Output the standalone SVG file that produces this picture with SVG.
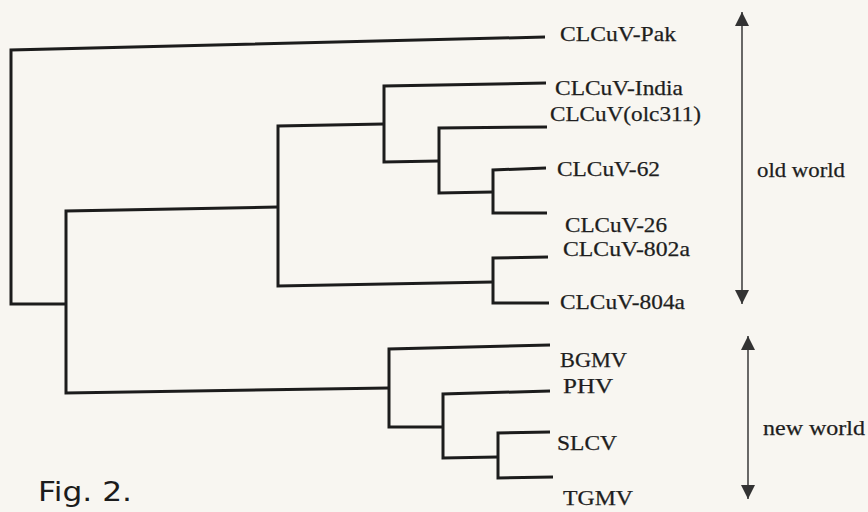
<svg xmlns="http://www.w3.org/2000/svg" width="868" height="512" viewBox="0 0 868 512">
<defs>
<marker id="ah" viewBox="0 0 14 14" refX="14" refY="7" markerWidth="14" markerHeight="14" markerUnits="userSpaceOnUse" orient="auto-start-reverse">
<path d="M0,0 L14,7 L0,14 z" fill="#333"/>
</marker>
<style>
.br{fill:none;stroke:#1c1c1c;stroke-width:3;stroke-linejoin:miter;stroke-linecap:butt}
.ar{stroke:#444;stroke-width:1.6;fill:none}
.lb{font-family:"Liberation Serif","Times New Roman",serif;font-size:21px;fill:#1e1e1e;stroke:#1e1e1e;stroke-width:0.25}
.fig{font-family:"DejaVu Sans","Liberation Sans",sans-serif;font-size:27px;fill:#1c1c1c}
</style>
</defs>
<rect width="868" height="512" fill="#f8f6f1"/>
<g id="connectors">
<path class="br" d="M545,37 L11,50 V304 H66"/>
<path class="br" d="M278,207 L66,211 V393 L389,388"/>
<path class="br" d="M384,124 L278,126 V286 L493,282"/>
<path class="br" d="M546,83 L384,86 V162 L439,161"/>
<path class="br" d="M547,127 L439,128 V193 L493,192"/>
<path class="br" d="M546,168 L493,170 V213 L547,213"/>
<path class="br" d="M548,257 L493,258 V303 L549,303"/>
<path class="br" d="M550,345 L389,349 V427 L443,427"/>
<path class="br" d="M550,391 L443,394 V458 L498,457"/>
<path class="br" d="M550,432 L498,433 V478 L553,477"/>
<line class="ar" x1="742" y1="12" x2="742" y2="304" marker-start="url(#ah)" marker-end="url(#ah)"/>
<line class="ar" x1="748" y1="336" x2="748" y2="499" marker-start="url(#ah)" marker-end="url(#ah)"/>
</g>
<g id="leaf-pak"><text class="lb" x="560" y="41" textLength="116" lengthAdjust="spacingAndGlyphs">CLCuV-Pak</text></g>
<g id="leaf-india"><text class="lb" x="555" y="95" textLength="128" lengthAdjust="spacingAndGlyphs">CLCuV-India</text></g>
<g id="leaf-olc311"><text class="lb" x="550" y="121" textLength="151" lengthAdjust="spacingAndGlyphs">CLCuV(olc311)</text></g>
<g id="leaf-62"><text class="lb" x="557" y="176" textLength="103" lengthAdjust="spacingAndGlyphs">CLCuV-62</text></g>
<g id="leaf-26"><text class="lb" x="565" y="232" textLength="102" lengthAdjust="spacingAndGlyphs">CLCuV-26</text></g>
<g id="leaf-802a"><text class="lb" x="563" y="256" textLength="127" lengthAdjust="spacingAndGlyphs">CLCuV-802a</text></g>
<g id="leaf-804a"><text class="lb" x="560" y="309" textLength="125" lengthAdjust="spacingAndGlyphs">CLCuV-804a</text></g>
<g id="leaf-bgmv"><text class="lb" x="560" y="367" textLength="67" lengthAdjust="spacingAndGlyphs">BGMV</text></g>
<g id="leaf-phv"><text class="lb" x="563" y="393" textLength="50" lengthAdjust="spacingAndGlyphs">PHV</text></g>
<g id="leaf-slcv"><text class="lb" x="557" y="450" textLength="60" lengthAdjust="spacingAndGlyphs">SLCV</text></g>
<g id="leaf-tgmv"><text class="lb" x="563" y="505" textLength="70" lengthAdjust="spacingAndGlyphs">TGMV</text></g>
<g id="group-old"><text class="lb" x="757" y="177" textLength="88" lengthAdjust="spacingAndGlyphs">old world</text></g>
<g id="group-new"><text class="lb" x="763" y="435" textLength="102" lengthAdjust="spacingAndGlyphs">new world</text></g>
<g id="caption"><text class="fig" x="38" y="501" textLength="94" lengthAdjust="spacingAndGlyphs">Fig. 2.</text></g>
</svg>
